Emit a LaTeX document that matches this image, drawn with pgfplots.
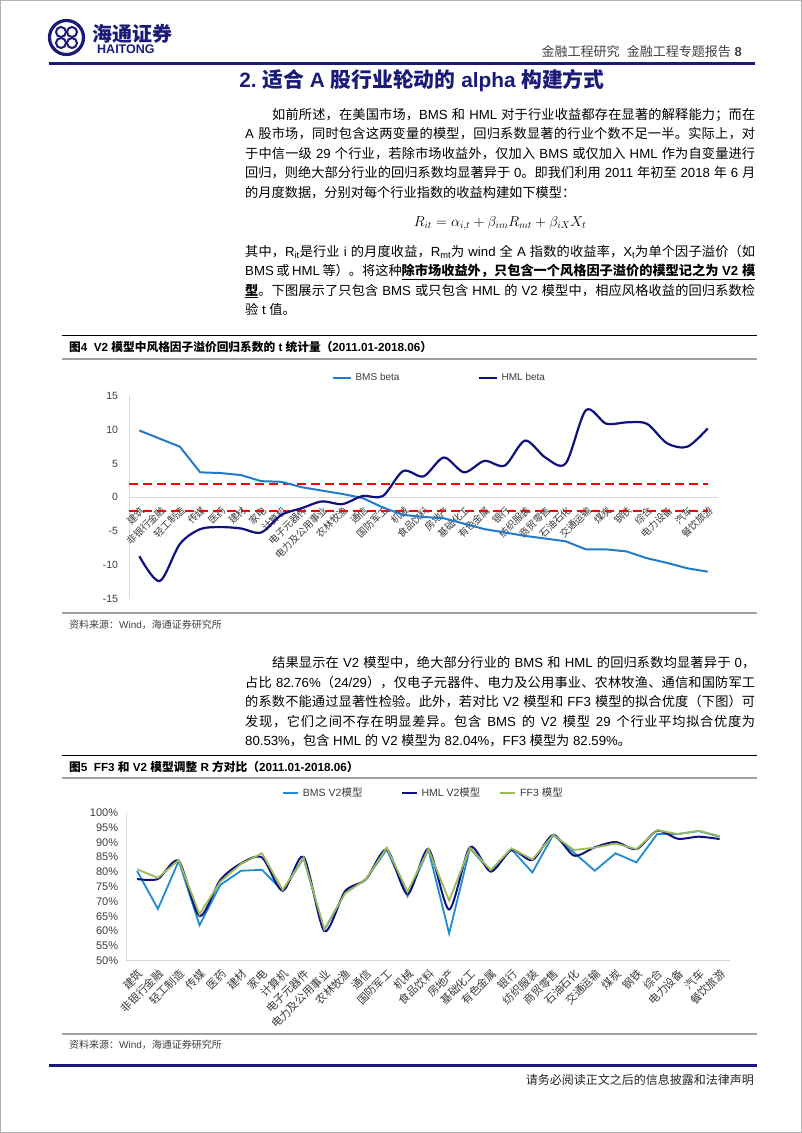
\documentclass[border=0pt]{standalone}
\usepackage{pgfplots}
\usepackage{pgfplotstable}
\pgfplotsset{compat=1.18}
\usepackage{fontspec}
\setmainfont{Liberation Sans}
\newfontfamily\cjkfont{Noto Sans CJK SC}
\newfontfamily\latfont{Liberation Sans}
\XeTeXinterchartokenstate=1
\newXeTeXintercharclass\cjkclass
\newcount\cjkc
\def\setcjkrange#1#2{\cjkc=#1\relax
  \loop\XeTeXcharclass\cjkc=\cjkclass\relax
  \ifnum\cjkc<#2\relax\advance\cjkc by 1\relax\repeat}
\setcjkrange{"3000}{"303F}
\setcjkrange{"4E00}{"9FFF}
\setcjkrange{"FF00}{"FFEF}
\XeTeXinterchartoks 0 \cjkclass = {\cjkfont}
\XeTeXinterchartoks 4095 \cjkclass = {\cjkfont}
\XeTeXinterchartoks \cjkclass 0 = {\latfont}
\XeTeXinterchartoks \cjkclass 4095 = {\latfont}
\XeTeXinterchartoks \cjkclass \cjkclass = {\hskip0pt plus 0.6pt\relax}
\newcommand{\fs}[2]{\fontsize{#1}{#2}\selectfont}
\definecolor{navy}{RGB}{26,26,120}
\definecolor{bmsblue}{RGB}{34,122,200}
\definecolor{hmlnavy}{RGB}{16,16,128}
\definecolor{bms2}{RGB}{30,140,210}
\definecolor{ff3green}{RGB}{155,187,89}
\definecolor{axisgray}{RGB}{217,217,217}
\definecolor{tickgray}{RGB}{60,60,60}
\definecolor{rulegray}{RGB}{160,160,160}

\pgfplotstableread{
i bms hml
0 9.9 -8.7
1 8.7 -12.4
2 7.5 -6.9
3 3.7 -4.7
4 3.6 -4.4
5 3.3 -4.6
6 2.4 -5.2
7 2.3 -2.6
8 1.5 -1.6
9 1.0 -0.6
10 0.5 -1.0
11 -0.1 0.2
12 -1.5 0.2
13 -2.6 3.9
14 -2.9 3.1
15 -3.1 5.9
16 -3.9 3.7
17 -4.7 5.4
18 -5.2 4.7
19 -5.7 8.4
20 -6.1 5.9
21 -6.5 5.0
22 -7.7 12.9
23 -7.7 10.9
24 -8.0 11.1
25 -9.0 10.9
26 -9.7 8.0
27 -10.5 7.5
28 -11.0 10.2
}\chartone

\pgfplotstableread{
i bms hml ff3
0 80.3 77.6 80.9
1 67.5 77.6 78.0
2 83.7 83.7 84.0
3 62.0 65.1 65.7
4 75.6 77.3 76.7
5 80.4 82.9 82.7
6 80.7 84.9 86.3
7 73.6 73.6 73.9
8 84.6 85.1 84.8
9 60.4 60.0 60.6
10 73.0 73.5 72.8
11 77.5 77.5 77.5
12 87.6 87.6 88.2
13 71.8 72.5 73.3
14 87.6 87.7 87.7
15 59.2 67.3 70.3
16 88.0 88.4 88.2
17 80.1 80.1 80.6
18 87.6 87.4 88.0
19 79.8 84.0 84.2
20 92.5 92.5 92.5
21 86.5 85.5 87.4
22 80.4 88.3 88.2
23 86.3 90.1 89.6
24 83.2 87.7 87.7
25 92.8 93.9 94.1
26 92.8 91.2 92.8
27 93.8 91.9 93.9
28 91.9 91.1 92.1
}\charttwo

\begin{document}
\begin{tikzpicture}
\useasboundingbox (0pt,0pt) rectangle (802pt,-1133pt);
\begin{scope}[x=1pt,y=-1pt]
\fill[white] (0,0) rectangle (802,1133);
\draw[gray!60, line width=1.2pt] (0.6,0.6) rectangle (801.4,1132.4);
% logo
\draw[navy, line width=3.2pt] (66.5,37.5) circle (17);
\draw[navy, line width=2pt] (61,32) circle (5);
\draw[navy, line width=2pt] (72,32) circle (5);
\draw[navy, line width=2pt] (61,43) circle (5);
\draw[navy, line width=2pt] (72,43) circle (5);
\node[anchor=base west, inner sep=0pt, text=navy, font=\fs{20}{22}\bfseries] at (92,41) {海通证券};
\node[anchor=base west, inner sep=0pt, text=navy, font=\fs{12.5}{14}\bfseries] at (97,53.5) {HAITONG};
% header
\node[anchor=base east, inner sep=0pt, text=black!75, font=\fs{13}{15}] at (742,56.7) {金融工程研究\ \ 金融工程专题报告 \textbf{8}};
\draw[navy, line width=3pt] (48.6,63.5) -- (754.5,63.5);
\node[anchor=base, inner sep=0pt, text=navy, font=\fs{20.8}{24}\bfseries] at (422,87.5) {2.\ 适合 A 股行业轮动的 alpha 构建方式};
% paragraph 1
\begin{scope}[every node/.style={anchor=base west, inner sep=0pt, font=\fs{13.2}{16}}]
\node at (272,119.3) {\makebox[483pt][s]{如前所述，在美国市场，BMS 和 HML 对于行业收益都存在显著的解释能力；而在}};
\node at (245,138.8) {\makebox[510pt][s]{A 股市场，同时包含这两变量的模型，回归系数显著的行业个数不足一半。实际上，对}};
\node at (245,158.3) {\makebox[510pt][s]{于中信一级 29 个行业，若除市场收益外，仅加入 BMS 或仅加入 HML 作为自变量进行}};
\node at (245,177.8) {\makebox[510pt][s]{回归，则绝大部分行业的回归系数均显著异于 0。即我们利用 2011 年初至 2018 年 6 月}};
\node at (245,197.3) {的月度数据，分别对每个行业指数的收益构建如下模型：};
\node at (245,256.3) {\makebox[510pt][s]{其中，R\textsubscript{it}是行业 i 的月度收益，R\textsubscript{mt}为 wind 全 A 指数的收益率，X\textsubscript{t}为单个因子溢价（如}};
\node at (245,275.8) {\makebox[510pt][s]{BMS 或 HML 等）。将这种\underline{\textbf{除市场收益外，只包含一个风格因子溢价的模型记之为 V2 模}}}};
\node at (245,295.3) {\makebox[510pt][s]{\underline{\textbf{型}}。下图展示了只包含 BMS 或只包含 HML 的 V2 模型中，相应风格收益的回归系数检}};
\node at (245,314.8) {验 t 值。};
% paragraph 2
\node at (272,667.8) {\makebox[483pt][s]{结果显示在 V2 模型中，绝大部分行业的 BMS 和 HML 的回归系数均显著异于 0，}};
\node at (245,687.3) {\makebox[510pt][s]{占比 82.76\%（24/29），仅电子元器件、电力及公用事业、农林牧渔、通信和国防军工}};
\node at (245,706.8) {\makebox[510pt][s]{的系数不能通过显著性检验。此外，若对比 V2 模型和 FF3 模型的拟合优度（下图）可}};
\node at (245,726.3) {\makebox[510pt][s]{发现，它们之间不存在明显差异。包含 BMS 的 V2 模型 29 个行业平均拟合优度为}};
\node at (245,745.8) {80.53\%，包含 HML 的 V2 模型为 82.04\%，FF3 模型为 82.59\%。};
\end{scope}
\node[anchor=base, inner sep=0pt, font=\fs{14}{16}] at (500,226) {$R_{it} = \alpha_{i,t} + \beta_{im}R_{mt} + \beta_{iX}X_t$};
% figure 4 frame
\draw[black, line width=1pt] (62,335) -- (757,335);
\node[anchor=base west, inner sep=0pt, font=\fs{11.7}{14}\bfseries] at (69,351.2) {图4\ \ V2 模型中风格因子溢价回归系数的 t 统计量（2011.01-2018.06）};
\draw[rulegray, line width=2pt] (62,359) -- (757,359);
\draw[rulegray, line width=1.5pt] (62,613) -- (757,613);
\node[anchor=base west, inner sep=0pt, text=black!75, font=\fs{10}{12}] at (69,628.6) {资料来源：Wind，海通证券研究所};
% figure 5 frame
\draw[black, line width=1pt] (62,755) -- (757,755);
\node[anchor=base west, inner sep=0pt, font=\fs{11.7}{14}\bfseries] at (69,771.2) {图5\ \ FF3 和 V2 模型调整 R 方对比（2011.01-2018.06）};
\draw[rulegray, line width=2pt] (62,778) -- (757,778);
\draw[rulegray, line width=1.5pt] (62,1034) -- (757,1034);
\node[anchor=base west, inner sep=0pt, text=black!75, font=\fs{10}{12}] at (69,1048.1) {资料来源：Wind，海通证券研究所};
% footer
\draw[navy, line width=3pt] (48.7,1065.7) -- (756.6,1065.7);
\node[anchor=base east, inner sep=0pt, text=black!85, font=\fs{12}{14}] at (754,1084.3) {请务必阅读正文之后的信息披露和法律声明};
\end{scope}

% ---------- Chart 1 ----------
\begin{axis}[
  at={(129.15pt,-598.7pt)}, anchor=south west,
  scale only axis, width=588.7pt, height=202.7pt,
  xmin=-0.5, xmax=28.5, ymin=-15, ymax=15,
  axis lines*=left, separate axis lines,
  x axis line style={draw=none},
  y axis line style={draw=axisgray, line width=0.8pt},
  major tick length=0pt,
  ytick={-15,-10,-5,0,5,10,15},
  yticklabels={-15,-10,-5,0,5,10,15},
  yticklabel style={font=\fs{10.5}{12}, text=tickgray, inner sep=0pt, xshift=-11pt},
  xtick={0,...,28},
  xticklabels={建筑,非银行金融,轻工制造,传媒,医药,建材,家电,计算机,电子元器件,电力及公用事业,农林牧渔,通信,国防军工,机械,食品饮料,房地产,基础化工,有色金属,银行,纺织服装,商贸零售,石油石化,交通运输,煤炭,钢铁,综合,电力设备,汽车,餐饮旅游},
  xticklabel style={font=\fs{9.8}{12}, text=tickgray, rotate=45, anchor=north east, inner sep=0pt},
  xticklabel shift=-93.7pt,
  clip=false,
  legend columns=2,
  legend style={draw=none, fill=none, inner sep=0pt, at={(0.3435,1.0888)}, anchor=west,
    font=\fs{10}{12}, text=tickgray,
    /tikz/every odd column/.append style={column sep=2pt},
    /tikz/every even column/.append style={column sep=76pt}},
  legend image code/.code={\draw[#1] (0pt,0pt) -- (18pt,0pt);},
]
\addplot[axisgray, line width=0.8pt, forget plot] coordinates {(-0.5,0) (28.5,0)};
\addplot[red, line width=2.4pt, dash pattern=on 9pt off 5pt, forget plot] coordinates {(-0.5,2) (28,2)};
\addplot[red, line width=2.4pt, dash pattern=on 9pt off 5pt, forget plot] coordinates {(-0.5,-2) (28,-2)};
\addplot[bmsblue, line width=2pt] table[x=i, y=bms] {\chartone};
\addplot[hmlnavy, line width=2.2pt, smooth, tension=0.5] table[x=i, y=hml] {\chartone};
\legend{BMS beta, HML beta}
\end{axis}

% ---------- Chart 2 ----------
\begin{axis}[
  at={(126.7pt,-960.7pt)}, anchor=south west,
  scale only axis, width=603.3pt, height=148pt,
  xmin=-0.5, xmax=28.5, ymin=50, ymax=100,
  axis lines*=left, separate axis lines,
  axis line style={draw=axisgray, line width=0.8pt},
  major tick length=0pt,
  ytick={50,55,...,100},
  yticklabels={50\%,55\%,60\%,65\%,70\%,75\%,80\%,85\%,90\%,95\%,100\%},
  yticklabel style={font=\fs{11}{12}, text=tickgray, inner sep=0pt, xshift=-8.4pt},
  xtick={0,...,28},
  xticklabels={建筑,非银行金融,轻工制造,传媒,医药,建材,家电,计算机,电子元器件,电力及公用事业,农林牧渔,通信,国防军工,机械,食品饮料,房地产,基础化工,有色金属,银行,纺织服装,商贸零售,石油石化,交通运输,煤炭,钢铁,综合,电力设备,汽车,餐饮旅游},
  xticklabel style={font=\fs{11}{13}, text=tickgray, rotate=45, anchor=north east, inner sep=0pt},
  xticklabel shift=7pt,
  clip=false,
  legend columns=3,
  legend style={draw=none, fill=none, inner sep=0pt, at={(0.2574,1.1331)}, anchor=west,
    font=\fs{10.5}{12}, text=tickgray,
    /tikz/every odd column/.append style={column sep=2pt},
    /tikz/column 2/.append style={column sep=36pt},
    /tikz/column 4/.append style={column sep=17pt}},
  legend image code/.code={\draw[#1] (0pt,0pt) -- (15pt,0pt);},
]
\addplot[bms2, line width=1.8pt] table[x=i, y=bms] {\charttwo};
\addplot[hmlnavy, line width=2pt, smooth, tension=0.45] table[x=i, y=hml] {\charttwo};
\addplot[ff3green, line width=1.8pt] table[x=i, y=ff3] {\charttwo};
\legend{BMS V2模型, HML V2模型, FF3 模型}
\end{axis}
\end{tikzpicture}
\end{document}
